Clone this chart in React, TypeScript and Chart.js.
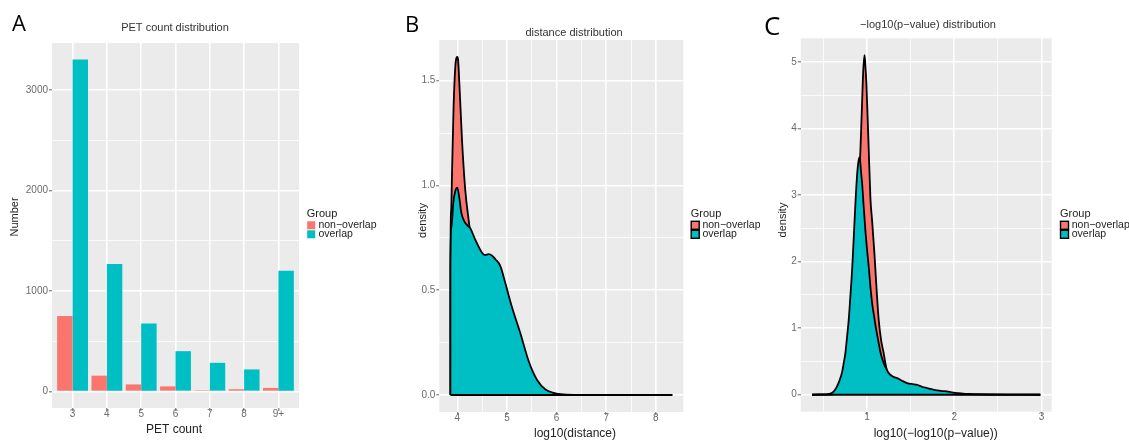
import React, { useEffect, useRef } from 'react';
import { Chart, registerables } from 'chart.js';

Chart.register(...registerables);

// ---------- Panel A: PET count distribution ----------
const petCategories = ['3', '4', '5', '6', '7', '8', '9+'];
const petNonOverlap = [750, 157, 70, 50, 12, 22, 35];
const petOverlap = [3305, 1268, 677, 401, 285, 219, 1201];
const petYMajor = [0, 1000, 2000, 3000];
const petYMinor = [500, 1500, 2500];

// ---------- Panel B: distance distribution (density of log10 distance) ----------
const distNonOverlapX = [3.86, 3.8605, 3.875, 3.893, 3.925, 3.96, 3.985, 4.0, 4.015, 4.047, 4.094, 4.16, 4.228, 4.26, 4.35, 4.5, 4.7, 4.9, 5.1, 5.4, 5.7, 6.0, 6.5, 8.33];
const distNonOverlapY = [0, 0.6, 0.88, 1.06, 1.38, 1.57, 1.61, 1.613, 1.6, 1.456, 1.217, 0.978, 0.835, 0.78, 0.66, 0.54, 0.4, 0.27, 0.16, 0.06, 0.02, 0.005, 0, 0];
const distOverlapX = [3.86, 3.8605, 3.88, 3.92, 3.96, 4.0, 4.04, 4.08, 4.127, 4.2, 4.262, 4.363, 4.497, 4.56, 4.63, 4.7, 4.766, 4.867, 4.968, 5.1, 5.27, 5.44, 5.607, 5.774, 5.976, 6.11, 6.5, 8.33];
const distOverlapY = [0, 0.6, 0.8, 0.92, 0.975, 0.99, 0.94, 0.87, 0.835, 0.81, 0.795, 0.74, 0.679, 0.668, 0.672, 0.665, 0.648, 0.615, 0.533, 0.42, 0.295, 0.16, 0.072, 0.027, 0.008, 0.002, 0, 0];
const distXMajor = [4, 5, 6, 7, 8];
const distXMinor = [4.5, 5.5, 6.5, 7.5];
const distYMajor = [0, 0.5, 1.0, 1.5];
const distYMinor = [0.25, 0.75, 1.25];

// ---------- Panel C: -log10(p-value) distribution ----------
const pvalNonOverlapX = [0.369, 0.6, 0.65, 0.7, 0.75, 0.8, 0.85, 0.88, 0.9, 0.923, 0.94, 0.955, 0.97, 0.98, 0.992, 1.005, 1.019, 1.038, 1.057, 1.084, 1.107, 1.133, 1.16, 1.19, 1.21, 1.23, 1.26, 1.3, 1.4, 1.5, 1.7, 2.0, 2.4, 2.987];
const pvalNonOverlapY = [0, 0.005, 0.03, 0.1, 0.3, 0.8, 1.7, 2.5, 3.1, 3.67, 4.3, 4.85, 5.1, 4.95, 4.67, 4.2, 3.67, 2.95, 2.62, 2.12, 1.62, 1.125, 0.825, 0.625, 0.47, 0.35, 0.26, 0.19, 0.11, 0.07, 0.03, 0.01, 0.003, 0];
const pvalOverlapX = [0.369, 0.45, 0.55, 0.6, 0.63, 0.656, 0.685, 0.713, 0.735, 0.751, 0.77, 0.789, 0.809, 0.828, 0.847, 0.865, 0.885, 0.9, 0.915, 0.93, 0.943, 0.961, 0.98, 1.0, 1.02, 1.038, 1.06, 1.08, 1.095, 1.115, 1.133, 1.16, 1.19, 1.22, 1.248, 1.3, 1.344, 1.4, 1.459, 1.52, 1.573, 1.63, 1.688, 1.75, 1.803, 1.86, 1.917, 1.97, 2.03, 2.1, 2.2, 2.4, 2.7, 2.987];
const pvalOverlapY = [0, 0.005, 0.01, 0.03, 0.07, 0.13, 0.22, 0.34, 0.5, 0.63, 0.87, 1.125, 1.5, 1.875, 2.37, 2.85, 3.3, 3.5, 3.57, 3.35, 3.17, 2.82, 2.47, 2.17, 1.9, 1.62, 1.35, 1.18, 1.05, 0.9, 0.775, 0.6, 0.475, 0.39, 0.325, 0.27, 0.25, 0.21, 0.175, 0.16, 0.15, 0.12, 0.1, 0.08, 0.065, 0.055, 0.05, 0.035, 0.025, 0.015, 0.01, 0.005, 0.002, 0];
const pvalXMajor = [1, 2, 3];
const pvalXMinor = [0.5, 1.5, 2.5];
const pvalYMajor = [0, 1, 2, 3, 4, 5];
const pvalYMinor = [0.5, 1.5, 2.5, 3.5, 4.5];

const groupLabels = ['non\u2212overlap', 'overlap'];
const RED = '#F8766D';
const TEAL = '#00BFC4';
const PANEL_BG = '#EBEBEB';
const FONT = "'Liberation Sans', Arial, sans-serif";

const toPoints = (xs: number[], ys: number[]) => xs.map((x, i) => ({ x, y: ys[i] }));

function makeAxis(
  min: number,
  max: number,
  majors: number[],
  minors: number[],
  label: (v: number) => string,
  size: number,
  horizontal: boolean
) {
  const isMajor = (v: any) => majors.some((m) => Math.abs(m - v) < 1e-9);
  return {
    type: 'linear' as const,
    min,
    max,
    offset: false,
    afterBuildTicks: (s: any) => {
      s.ticks = [...majors, ...minors].sort((a, b) => a - b).map((value) => ({ value }));
    },
    afterFit: (s: any) => {
      if (horizontal) s.height = size;
      else s.width = size;
    },
    border: { display: false },
    grid: {
      offset: false,
      color: '#ffffff',
      lineWidth: (c: any) => (c.tick && isMajor(c.tick.value) ? 1.6 : 0.8),
      drawTicks: true,
      tickLength: 3,
      tickWidth: 1,
      tickColor: (c: any) => (c.tick && isMajor(c.tick.value) ? '#666666' : 'rgba(0,0,0,0)'),
    },
    ticks: {
      autoSkip: false,
      maxRotation: 0,
      minRotation: 0,
      padding: horizontal ? -2 : 1,
      color: '#6b6b6b',
      font: { size: 10, lineHeight: 1, family: FONT },
      callback: (v: any) => (isMajor(v) ? label(Number(v)) : ''),
    },
  };
}

type Deco = {
  left: number;
  letter: { text: string; x: number; y: number; size: number };
  title: { text: string; x: number; y: number };
  xTitle: { text: string; x: number; y: number };
  yTitle: { text: string; x: number; y: number };
  legend: { x: number; y: number; outline: boolean };
};

// Draws panel letter, titles and the "Group" legend on top of each chart.
function decorations(d: Deco) {
  return {
    id: 'decorations' + d.letter.text,
    beforeDraw(chart: any) {
      const { ctx, chartArea } = chart;
      ctx.save();
      ctx.fillStyle = PANEL_BG;
      ctx.fillRect(chartArea.left, chartArea.top, chartArea.right - chartArea.left, chartArea.bottom - chartArea.top);
      ctx.restore();
    },
    afterDraw(chart: any) {
      const ctx = chart.ctx as CanvasRenderingContext2D;
      const L = d.left;
      ctx.save();
      ctx.textBaseline = 'alphabetic';
      ctx.textAlign = 'left';
      ctx.fillStyle = '#000';
      ctx.font = `${d.letter.size}px 'Open Sans', ${FONT}`;
      ctx.fillText(d.letter.text, d.letter.x - L, d.letter.y);

      ctx.textBaseline = 'middle';
      ctx.textAlign = 'center';
      ctx.fillStyle = '#333';
      ctx.font = `11px ${FONT}`;
      ctx.fillText(d.title.text, d.title.x - L, d.title.y);

      ctx.fillStyle = '#222';
      ctx.font = `12px ${FONT}`;
      ctx.fillText(d.xTitle.text, d.xTitle.x - L, d.xTitle.y);

      ctx.save();
      ctx.translate(d.yTitle.x - L, d.yTitle.y);
      ctx.rotate(-Math.PI / 2);
      ctx.font = `11px ${FONT}`;
      ctx.fillText(d.yTitle.text, 0, 0);
      ctx.restore();

      // legend
      const lx = d.legend.x - L;
      const ly = d.legend.y;
      ctx.textAlign = 'left';
      ctx.fillStyle = '#222';
      ctx.font = `11px ${FONT}`;
      ctx.fillText('Group', lx, ly);
      const colors = [RED, TEAL];
      ctx.font = `10.5px ${FONT}`;
      groupLabels.forEach((g, i) => {
        const ky = ly + 7 + i * 9;
        ctx.fillStyle = colors[i];
        ctx.fillRect(lx + 0.5, ky, 8, 8);
        if (d.legend.outline) {
          ctx.strokeStyle = '#000';
          ctx.lineWidth = 1.4;
          ctx.strokeRect(lx + 0.5, ky, 8, 8);
        }
        ctx.fillStyle = '#222';
        ctx.fillText(g, lx + 11.7, ky + 3.5);
      });
      ctx.restore();
    },
  };
}

function densityDataset(label: string, xs: number[], ys: number[], color: string, order: number) {
  return {
    label,
    data: toPoints(xs, ys),
    borderColor: '#000',
    borderWidth: 1.8,
    backgroundColor: color,
    fill: 'origin',
    pointRadius: 0,
    cubicInterpolationMode: 'monotone' as const,
    order,
  };
}

function baselineDataset(x0: number, x1: number) {
  return {
    label: 'baseline',
    data: [{ x: x0, y: 0 }, { x: x1, y: 0 }],
    borderColor: '#000',
    borderWidth: 1.8,
    fill: false,
    pointRadius: 0,
    order: -1,
  };
}

const commonOptions = {
  responsive: false,
  animation: false as const,
  devicePixelRatio: 1,
  events: [] as any[],
  plugins: { legend: { display: false }, tooltip: { enabled: false }, title: { display: false } },
};

function buildA(): any {
  const deco: Deco = {
    left: 0,
    letter: { text: 'A', x: 12, y: 31, size: 22 },
    title: { text: 'PET count distribution', x: 175, y: 28 },
    xTitle: { text: 'PET count', x: 174, y: 430 },
    yTitle: { text: 'Number', x: 15, y: 217 },
    legend: { x: 306.7, y: 214.3, outline: false },
  };
  return {
    type: 'bar',
    data: {
      datasets: [
        {
          label: groupLabels[0],
          data: petCategories.map((_, i) => ({ x: i + 1, y: petNonOverlap[i] })),
          backgroundColor: RED,
          borderWidth: 0,
          categoryPercentage: 0.9,
          barPercentage: 1,
        },
        {
          label: groupLabels[1],
          data: petCategories.map((_, i) => ({ x: i + 1, y: petOverlap[i] })),
          backgroundColor: TEAL,
          borderWidth: 0,
          categoryPercentage: 0.9,
          barPercentage: 1,
        },
      ],
    },
    options: {
      ...commonOptions,
      layout: { padding: { left: 8, top: 43, right: 81, bottom: 0 } },
      scales: {
        x: makeAxis(0.4, 7.6, petCategories.map((_, i) => i + 1), [], (v) => petCategories[v - 1], 34, true),
        y: makeAxis(-165, 3470, petYMajor, petYMinor, (v) => String(v), 44, false),
      },
    },
    plugins: [decorations(deco)],
  };
}

function buildB(): any {
  const deco: Deco = {
    left: 380,
    letter: { text: 'B', x: 405, y: 31.5, size: 22 },
    title: { text: 'distance distribution', x: 574, y: 33 },
    xTitle: { text: 'log10(distance)', x: 575, y: 433.5 },
    yTitle: { text: 'density', x: 423, y: 220.5 },
    legend: { x: 690.7, y: 214.3, outline: true },
  };
  return {
    type: 'line',
    data: {
      datasets: [
        densityDataset(groupLabels[0], distNonOverlapX, distNonOverlapY, RED, 1),
        densityDataset(groupLabels[1], distOverlapX, distOverlapY, TEAL, 0),
        baselineDataset(distOverlapX[0], distOverlapX[distOverlapX.length - 1]),
      ],
    },
    options: {
      ...commonOptions,
      layout: { padding: { left: 36, top: 40, right: 76.7, bottom: 0 } },
      scales: {
        x: makeAxis(3.6365, 8.5535, distXMajor, distXMinor, (v) => String(v), 30, true),
        y: makeAxis(-0.081, 1.694, distYMajor, distYMinor, (v) => v.toFixed(1), 23.3, false),
      },
    },
    plugins: [decorations(deco)],
  };
}

function buildC(): any {
  const deco: Deco = {
    left: 760,
    letter: { text: 'C', x: 764, y: 34.5, size: 26 },
    title: { text: '\u2212log10(p\u2212value) distribution', x: 928, y: 25 },
    xTitle: { text: 'log10(\u2212log10(p\u2212value))', x: 935.7, y: 433.5 },
    yTitle: { text: 'density', x: 783.3, y: 220 },
    legend: { x: 1060, y: 214.3, outline: true },
  };
  return {
    type: 'line',
    data: {
      datasets: [
        densityDataset(groupLabels[0], pvalNonOverlapX, pvalNonOverlapY, RED, 1),
        densityDataset(groupLabels[1], pvalOverlapX, pvalOverlapY, TEAL, 0),
        baselineDataset(pvalOverlapX[0], pvalOverlapX[pvalOverlapX.length - 1]),
      ],
    },
    options: {
      ...commonOptions,
      layout: { padding: { left: 16, top: 38.3, right: 77.3, bottom: 0 } },
      scales: {
        x: makeAxis(0.238, 3.118, pvalXMajor, pvalXMinor, (v) => String(v), 30.3, true),
        y: makeAxis(-0.255, 5.355, pvalYMajor, pvalYMinor, (v) => String(v), 24.7, false),
      },
    },
    plugins: [decorations(deco)],
  };
}

function ChartPanel({ left, width, build }: { left: number; width: number; build: () => any }) {
  const ref = useRef<HTMLCanvasElement | null>(null);
  useEffect(() => {
    if (!ref.current) return;
    const chart = new Chart(ref.current, build());
    return () => chart.destroy();
  }, [build]);
  return (
    <canvas
      ref={ref}
      width={width}
      height={442}
      style={{ position: 'absolute', left, top: 0, width, height: 442 }}
    />
  );
}

export default function App() {
  return (
    <div
      style={{
        position: 'fixed',
        left: 0,
        top: 0,
        width: 1129,
        height: 442,
        background: '#ffffff',
        overflow: 'hidden',
      }}
    >
      <ChartPanel left={0} width={380} build={buildA} />
      <ChartPanel left={380} width={380} build={buildB} />
      <ChartPanel left={760} width={369} build={buildC} />
    </div>
  );
}
